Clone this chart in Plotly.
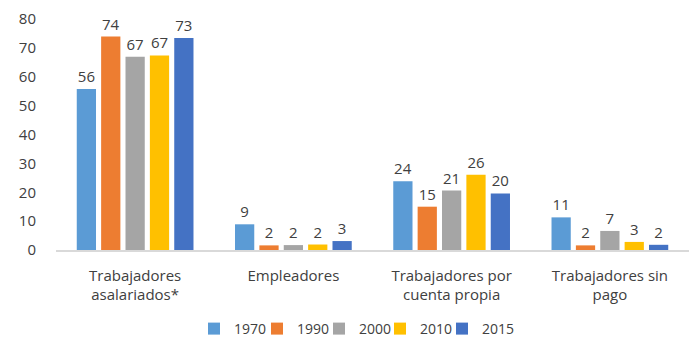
import plotly.graph_objects as go

categories = ["Trabajadores<br>asalariados*", "Empleadores", "Trabajadores por<br>cuenta propia", "Trabajadores sin<br>pago"]
years = ["1970", "1990", "2000", "2010", "2015"]
v1970 = [55.8, 8.9, 23.8, 11.3]
v1990 = [73.9, 1.6, 15.0, 1.6]
v2000 = [66.9, 1.7, 20.6, 6.6]
v2010 = [67.4, 1.9, 26.1, 2.8]
v2015 = [73.4, 3.1, 19.6, 1.8]
series = [v1970, v1990, v2000, v2010, v2015]
colors = ["#5B9BD5", "#ED7D31", "#A5A5A5", "#FFC000", "#4472C4"]

FONT = "Open Sans"
TXT = "#404040"

OFF = 8  # default page body margin
W, H = 700 - 2 * OFF, 353 - 2 * OFF
# desired plot area in screen px: x 56..689, y 19..250
L = 56 - OFF
T = 19 - OFF
R = W - (689 - OFF)
B = H - (250 - OFF)
PW = W - L - R
PH = H - T - B

# legend entry left edges (screen px) – one small legend per series
legend_left_px = [194, 257, 319, 380, 442]
legend_top_px = 313

fig = go.Figure()
layout_legends = {}
for i, (name, vals, col) in enumerate(zip(years, series, colors)):
    lname = "legend" if i == 0 else f"legend{i+1}"
    fig.add_trace(go.Bar(
        x=categories, y=vals, name=name,
        marker=dict(color=col, line=dict(width=0)),
        texttemplate="%{y:.0f}", textposition="outside",
        textfont=dict(family=FONT, size=15, color=TXT),
        cliponaxis=False,
        legend=lname,
    ))
    layout_legends[lname] = dict(
        orientation="h",
        x=(legend_left_px[i] - OFF - L) / PW, xanchor="left",
        y=(T + PH - (legend_top_px - OFF)) / PH, yanchor="top",
        font=dict(family=FONT, size=14, color=TXT),
        bgcolor="rgba(0,0,0,0)",
    )

fig.update_layout(
    width=W, height=H,
    margin=dict(l=L, r=R, t=T, b=B, autoexpand=False),
    paper_bgcolor="white", plot_bgcolor="white",
    barmode="group", bargap=0.23, bargroupgap=0.21,
    font=dict(family=FONT, size=15, color=TXT),
    showlegend=True,
    xaxis=dict(showline=True, linecolor="#D9D9D9", linewidth=1.5, ticks="",
               ticklabelstandoff=11,
               tickfont=dict(family=FONT, size=15, color=TXT)),
    yaxis=dict(range=[0, 80], dtick=10, showgrid=False, zeroline=False, showline=False,
               ticklabelstandoff=19, ticklabeloverflow="allow",
               tickfont=dict(family=FONT, size=15, color=TXT)),
    **layout_legends,
)
fig.write_html("out.html")
